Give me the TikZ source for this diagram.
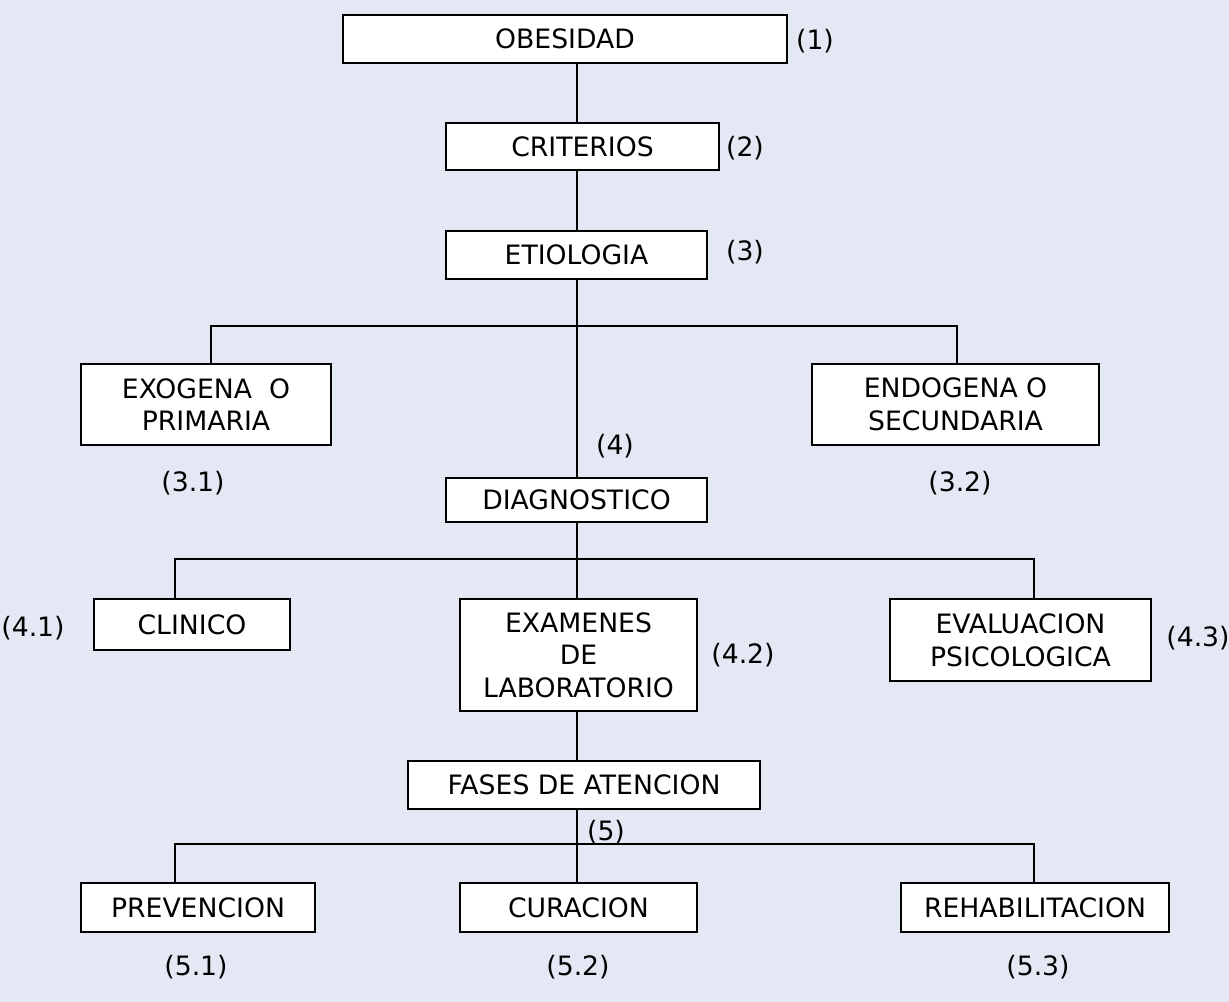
\documentclass[tikz,border=0pt]{standalone}
\usepackage{fontspec}
\setmainfont{DejaVu Sans}
\definecolor{bgc}{RGB}{228,232,244}
\begin{document}
\begin{tikzpicture}[x=0.75pt,y=-0.75pt,
  box/.style={draw=black,fill=white,line width=1.4pt,align=center,inner sep=0pt,
    font=\fontsize{20}{24.5}\selectfont},
  lbl/.style={inner sep=0pt,font=\fontsize{20}{24.5}\selectfont},
  conn/.style={line width=1.1pt}]
\fill[bgc] (0,0) rectangle (1229,1002);
\useasboundingbox (0,0) rectangle (1229,1002);
% boxes
\node[box,minimum width=333pt,minimum height=36pt] (obes) at (565,39) {OBESIDAD};
\node[box,minimum width=204.75pt,minimum height=35.25pt] (crit) at (582.5,146.5) {CRITERIOS};
\node[box,minimum width=195.75pt,minimum height=36pt] (etio) at (576.5,255) {ETIOLOGIA};
\node[box,minimum width=187.5pt,minimum height=60.75pt] (exo) at (206,404.5) {EXOGENA\ \ O\\PRIMARIA};
\node[box,minimum width=215.25pt,minimum height=60.75pt] (endo) at (955.5,404.5) {ENDOGENA O\\SECUNDARIA};
\node[box,minimum width=195.75pt,minimum height=33pt] (diag) at (576.5,500) {DIAGNOSTICO};
\node[box,minimum width=147pt,minimum height=38.25pt] (clin) at (192,624.5) {CLINICO};
\node[box,minimum width=177.75pt,minimum height=84pt] (exam) at (578.5,655) {EXAMENES\\DE\\LABORATORIO};
\node[box,minimum width=195.75pt,minimum height=61.5pt] (eval) at (1020.5,640) {EVALUACION\\PSICOLOGICA};
\node[box,minimum width=264pt,minimum height=36pt] (fases) at (584,785) {FASES DE ATENCION};
\node[box,minimum width=175.5pt,minimum height=36.75pt] (prev) at (198,907.5) {PREVENCION};
\node[box,minimum width=177.75pt,minimum height=36.75pt] (cura) at (578.5,907.5) {CURACION};
\node[box,minimum width=201pt,minimum height=36.75pt] (rehab) at (1035,907.5) {REHABILITACION};
% number labels
\node[lbl] (n1) at (815,41) {(1)};
\node[lbl] (n2) at (745,148) {(2)};
\node[lbl] (n3) at (745,252) {(3)};
\node[lbl] (n31) at (193,483) {(3.1)};
\node[lbl] (n32) at (960,483) {(3.2)};
\node[lbl] (n4) at (615,446) {(4)};
\node[lbl] (n41) at (33,628) {(4.1)};
\node[lbl] (n42) at (743,655) {(4.2)};
\node[lbl] (n43) at (1198,638) {(4.3)};
\node[lbl] (n5) at (606,832) {(5)};
\node[lbl] (n51) at (196,967) {(5.1)};
\node[lbl] (n52) at (578,967) {(5.2)};
\node[lbl] (n53) at (1038,967) {(5.3)};
% spine and branch points
\coordinate (sp) at (577,0);
\coordinate (b1l) at (211,326);
\coordinate (b1r) at (957,326);
\coordinate (b2l) at (175,559);
\coordinate (b2r) at (1034,559);
\coordinate (b3l) at (175,844);
\coordinate (b3r) at (1034,844);
% connectors
\draw[conn] (obes.south -| sp) -- (crit.north -| sp);
\draw[conn] (crit.south -| sp) -- (etio.north -| sp);
\draw[conn] (etio.south -| sp) -- (diag.north -| sp);
\draw[conn] (b1l |- exo.north) -- (b1l) -- (b1r) -- (b1r |- endo.north);
\draw[conn] (diag.south -| sp) -- (exam.north -| sp);
\draw[conn] (b2l |- clin.north) -- (b2l) -- (b2r) -- (b2r |- eval.north);
\draw[conn] (exam.south -| sp) -- (fases.north -| sp);
\draw[conn] (fases.south -| sp) -- (cura.north -| sp);
\draw[conn] (b3l |- prev.north) -- (b3l) -- (b3r) -- (b3r |- rehab.north);
\end{tikzpicture}
\end{document}
